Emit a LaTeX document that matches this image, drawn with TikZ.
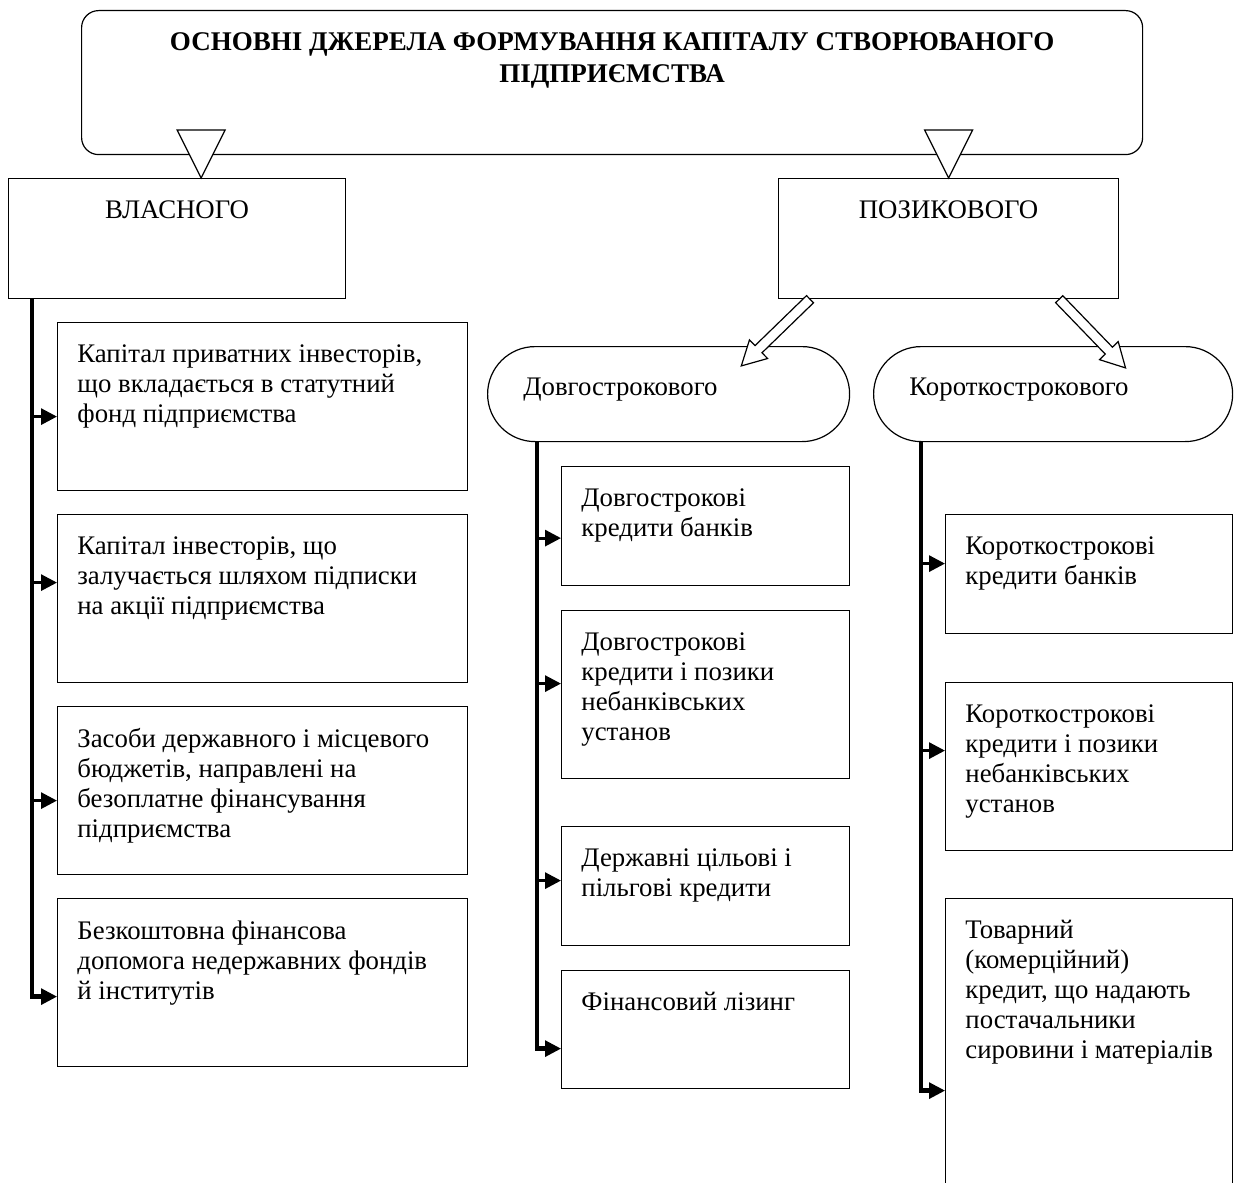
\documentclass[tikz,border=0pt]{standalone}
\usepackage{fontspec}
\setmainfont{Liberation Serif}
\usetikzlibrary{arrows.meta,calc}
\newcommand{\boxfont}{\fontsize{13.4}{15}\selectfont}
\newcommand{\headfont}{\fontsize{13.5}{16}\selectfont\bfseries}
\tikzstyle{srcbox} = [draw, line width=0.6pt, anchor=north west, inner sep=0pt]
\tikzstyle{srctext} = [anchor=north west, inner sep=0pt, align=left, font=\boxfont, xshift=10pt, yshift=-11pt]
\tikzstyle{headtext} = [anchor=north, inner sep=0pt, align=center, yshift=-11pt]
\tikzstyle{termtext} = [anchor=base west, inner sep=0pt, font=\boxfont, xshift=18pt, yshift=-0.75pt]
\tikzstyle{leftcol} = [srcbox, minimum width=205pt]
\tikzstyle{midcol} = [srcbox, minimum width=144pt]
\tikzstyle{rightcol} = [srcbox, minimum width=143.5pt]
\tikzstyle{term} = [srcbox, minimum height=47.5pt, rounded corners=23.75pt]
\tikzstyle{trunk} = [line width=2.2pt]
\tikzstyle{stub} = [line width=1.5pt, -{Triangle[length=8pt,width=8pt]}]
\tikzstyle{hollow} = [line width=0.6pt, fill=white, line join=miter]
\tikzstyle{wedge} = [line width=0.6pt, fill=white]

\begin{document}
\begin{tikzpicture}[x=0.5pt, y=-0.5pt]
  \useasboundingbox (0,0) rectangle (1234,1182);

  % Title
  \node[srcbox, rounded corners=8.5pt, minimum width=530.5pt, minimum height=72pt,
    label={[headtext, font=\headfont]north:{ОСНОВНІ ДЖЕРЕЛА ФОРМУВАННЯ КАПІТАЛУ СТВОРЮВАНОГО\\ПІДПРИЄМСТВА}}] (title) at (81,10) {};

  % Own and borrowed capital
  \node[srcbox, minimum width=168.5pt, minimum height=60pt,
    label={[headtext, font=\boxfont]north:ВЛАСНОГО}] (own) at (8,178) {};
  \node[srcbox, minimum width=170pt, minimum height=60pt,
    label={[headtext, font=\boxfont]north:ПОЗИКОВОГО}] (loan) at (778,178) {};

  % Triangles
  \draw[wedge] ([xshift=12pt]own.north) -- ++(-12pt,24pt) -- ++(24pt,0pt) -- cycle;
  \draw[wedge] (loan.north) -- ++(-12pt,24pt) -- ++(24pt,0pt) -- cycle;

  % Long and short term
  \node[term, minimum width=181pt, label={[termtext]west:Довгострокового}] (dlt) at (487,346) {};
  \node[term, minimum width=179.5pt, label={[termtext]west:Короткострокового}] (kt) at (873,346) {};

  % Hollow arrows
  \coordinate (dlt-s) at ([xshift=16pt]loan.south west);
  \coordinate (dlt-e) at ([shift={(-54.5pt,-10pt)}]dlt.north east);
  \coordinate (kt-s) at ([xshift=-30pt]loan.south east);
  \coordinate (kt-e) at ([shift={(36.25pt,-11pt)}]kt.north);
  \foreach \s/\e in {dlt-s/dlt-e, kt-s/kt-e}
    \draw[hollow] let \p1 = ($(\e)-(\s)$), \n1 = {atan2(\y1,\x1)}, \n2 = {veclen(\x1,\y1)} in
      [shift={(\s)}, rotate=\n1]
      (0pt,2.5pt) -- ({\n2-12pt},2.5pt) -- ({\n2-12pt},6.5pt) -- (\n2,0pt)
      -- ({\n2-12pt},-6.5pt) -- ({\n2-12pt},-2.5pt) -- (0pt,-2.5pt) -- cycle;

  % Own capital sources
  \node[leftcol, minimum height=84pt, label={[srctext]north west:{Капітал приватних інвесторів,\\що вкладається в статутний\\фонд підприємства}}] (priv) at (57,322) {};
  \node[leftcol, minimum height=84pt, label={[srctext]north west:{Капітал інвесторів, що\\залучається шляхом підписки\\на акції підприємства}}] (shares) at (57,514) {};
  \node[leftcol, minimum height=84pt, label={[srctext]north west:{Засоби державного і місцевого\\бюджетів, направлені на\\безоплатне фінансування\\підприємства}}] (budget) at (57,706) {};
  \node[leftcol, minimum height=84pt, label={[srctext]north west:{Безкоштовна фінансова\\допомога недержавних фондів\\й інститутів}}] (grant) at (57,898) {};

  % Long-term sources
  \node[midcol, minimum height=59.5pt, label={[srctext]north west:{Довгострокові\\кредити банків}}] (bank1) at (561,466) {};
  \node[midcol, minimum height=84pt, label={[srctext]north west:{Довгострокові\\кредити і позики\\небанківських\\установ}}] (nonbank1) at (561,610) {};
  \node[midcol, minimum height=59.5pt, label={[srctext]north west:{Державні цільові і\\пільгові кредити}}] (state) at (561,826) {};
  \node[midcol, minimum height=59pt, label={[srctext]north west:{Фінансовий лізинг}}] (leasing) at (561,970) {};

  % Short-term sources
  \node[rightcol, minimum height=59.5pt, label={[srctext]north west:{Короткострокові\\кредити банків}}] (bank2) at (945,514) {};
  \node[rightcol, minimum height=84pt, label={[srctext]north west:{Короткострокові\\кредити і позики\\небанківських\\установ}}] (nonbank2) at (945,682) {};
  \node[rightcol, minimum height=151pt, label={[srctext]north west:{Товарний\\(комерційний)\\кредит, що надають\\постачальники\\сировини і матеріалів}}] (trade) at (945,898) {};

  % Trunks
  \coordinate (own-t) at ([xshift=12pt]own.south west);
  \coordinate (dlt-t) at ([xshift=25pt]dlt.south west);
  \coordinate (kt-t) at ([xshift=24pt]kt.south west);
  \draw[trunk] (own-t) |- ([xshift=-7pt,yshift=-7pt]grant.west);
  \draw[trunk] (dlt-t) |- ([xshift=-7pt,yshift=-9.5pt]leasing.west);
  \draw[trunk] (kt-t) |- ([xshift=-7pt,yshift=-20.5pt]trade.west);

  % Arrows into boxes
  \foreach \t/\b/\d in {own-t/priv/-5pt, own-t/shares/8pt, own-t/budget/-5pt, own-t/grant/-7pt,
      dlt-t/bank1/-6pt, dlt-t/nonbank1/5.5pt, dlt-t/state/2.75pt, dlt-t/leasing/-9.5pt,
      kt-t/bank2/5.25pt, kt-t/nonbank2/8pt, kt-t/trade/-20.5pt} {
    \coordinate (e) at ([yshift=\d]\b.west);
    \draw[stub] (e -| \t) -- (e);
  }
\end{tikzpicture}
\end{document}
